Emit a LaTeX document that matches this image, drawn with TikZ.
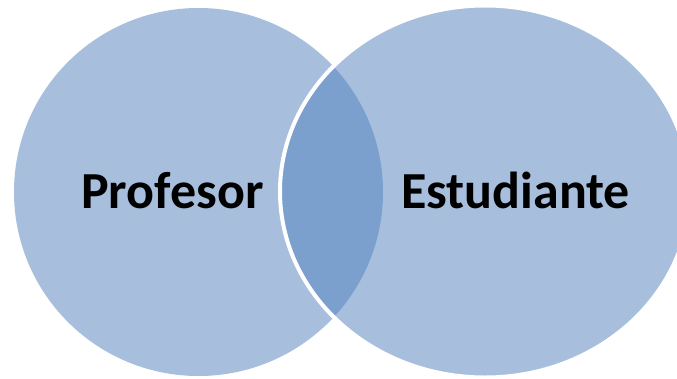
\documentclass[tikz,border=0pt]{standalone}
\usepackage{fontspec}
\setmainfont{Carlito}
\definecolor{lightblue}{RGB}{167,191,221}
\definecolor{darkblue}{RGB}{123,160,205}
\begin{document}
\begin{tikzpicture}[x=1pt,y=-1pt,
  lbl/.style={inner sep=0pt,anchor=base,font=\fontsize{52}{60}\selectfont\bfseries,text=black}]
\useasboundingbox (0,0) rectangle (677,378);
\fill[white] (0,0) rectangle (677,378);
\def\leftell{(198.5,192) ellipse [x radius=184.5, y radius=184]}
\def\rightell{(485,191.5) ellipse [x radius=205, y radius=186]}
\fill[lightblue] \leftell;
\fill[lightblue] \rightell;
\begin{scope}
  \clip \leftell;
  \fill[darkblue] \rightell;
\end{scope}
\draw[white,line width=4pt] \rightell;
\node[lbl] (prof) at (172.5,208) {Profesor};
\node[lbl] (est) at (515.5,208) {Estudiante};
\end{tikzpicture}
\end{document}
